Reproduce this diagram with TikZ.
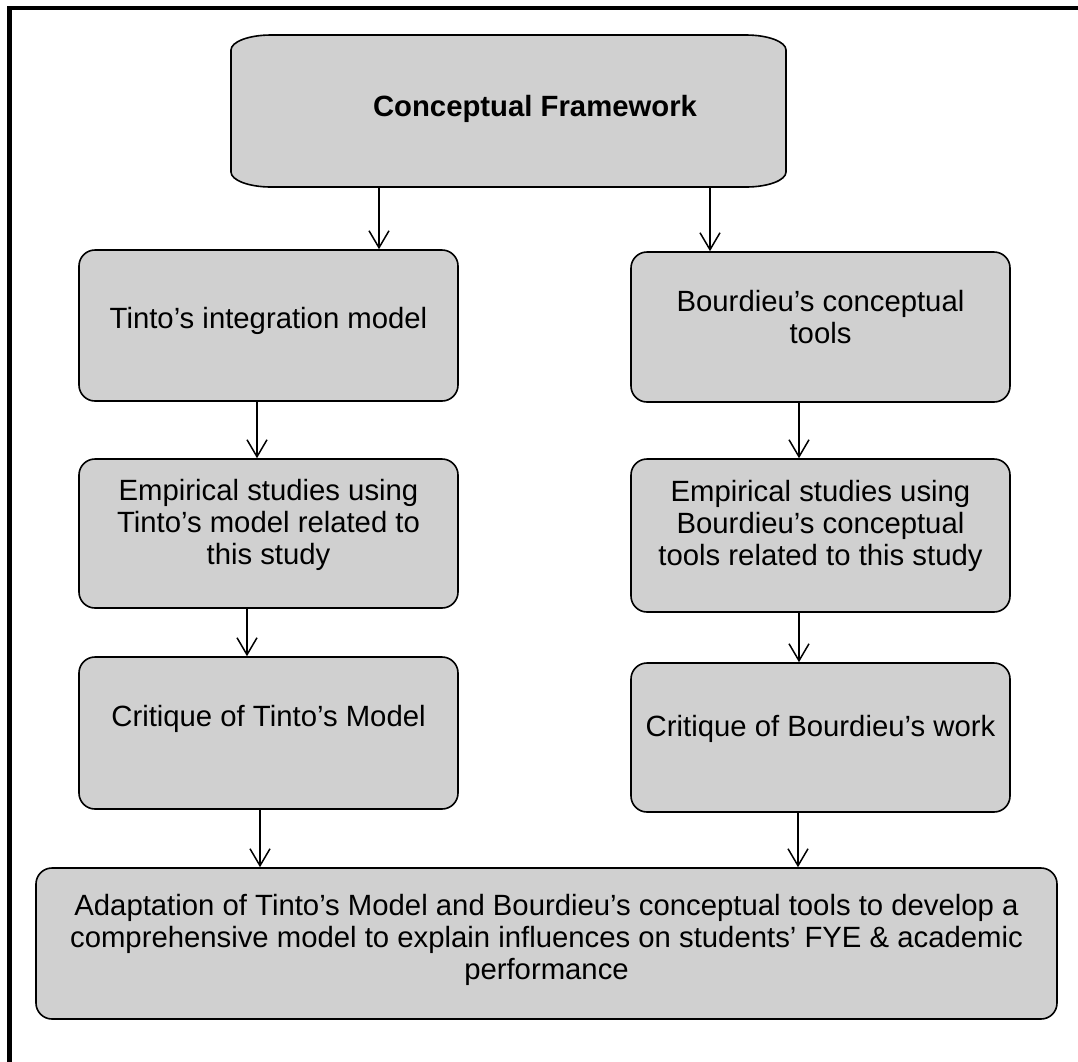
\documentclass[tikz,border=0pt]{standalone}
\usepackage{fontspec}
\setmainfont{Liberation Sans}
\usetikzlibrary{arrows.meta}
\definecolor{boxgray}{RGB}{208,208,208}
\tikzset{
  x=1pt, y=1pt,
  txt/.style={font=\fontsize{29.3}{32}\selectfont, align=center, text=black},
  card/.style={draw=black, line width=1.6pt, fill=boxgray, rounded corners=16pt,
    inner sep=0pt, txt},
  link/.style={draw=black, line width=1.5pt, -{Straight Barb[length=17pt,width=20pt]}},
}
\begin{document}
\begin{tikzpicture}
\useasboundingbox (0,0) rectangle (1078,-1061);
\clip (0,0) rectangle (1078,-1061);

% outer frame (only its top and left sides fall on the page)
\draw[line width=4.6pt] (9.5,-1100) -- (9.5,-8) -- (1100,-8);

% heading box with wide, flattened corners
\node[minimum width=555pt, minimum height=152pt, inner sep=0pt] (cf) at (508.5,-111) {};
\path[draw=black, line width=1.6pt, fill=boxgray]
  (271,-35) -- (746,-35) arc[start angle=90, end angle=0, x radius=40, y radius=15]
  -- (786,-172) arc[start angle=0, end angle=-90, x radius=40, y radius=15]
  -- (271,-187) arc[start angle=-90, end angle=-180, x radius=40, y radius=15]
  -- (231,-50) arc[start angle=180, end angle=90, x radius=40, y radius=15] -- cycle;
\node[txt, font=\fontsize{29.3}{32}\selectfont\bfseries] (cftext) at (535,-109) {Conceptual Framework};

% left column
\node[card, minimum width=379pt, minimum height=151pt, text depth=16pt] (t1) at (268.5,-325.5)
  {Tinto’s integration model};
\node[card, minimum width=379pt, minimum height=149pt, text depth=24pt] (t2) at (268.5,-533.5)
  {Empirical studies using\\Tinto’s model related to\\this study};
\node[card, minimum width=379pt, minimum height=152pt, text depth=34pt] (t3) at (268.5,-733)
  {Critique of Tinto’s Model};

% right column
\node[card, minimum width=379pt, minimum height=150pt, text depth=20pt] (b1) at (820.5,-327)
  {Bourdieu’s conceptual\\tools};
\node[card, minimum width=379pt, minimum height=153pt, text depth=26pt] (b2) at (820.5,-535.5)
  {Empirical studies using\\Bourdieu’s conceptual\\tools related to this study};
\node[card, minimum width=379pt, minimum height=149pt, text depth=24pt] (b3) at (820.5,-737.5)
  {Critique of Bourdieu’s work};

% closing box
\node[card, minimum width=1021pt, minimum height=151pt, text depth=14pt] (fin) at (546.5,-943.5)
  {Adaptation of Tinto’s Model and Bourdieu’s conceptual tools to develop a\\
   comprehensive model to explain influences on students’ FYE \& academic\\
   performance};

% connectors
\draw[link] ([xshift=-129.5pt]cf.south) -- ([xshift=110.5pt]t1.north);
\draw[link] ([xshift=201.5pt]cf.south) -- ([xshift=-110.5pt]b1.north);
\draw[link] ([xshift=-11.5pt]t1.south) -- ([xshift=-11.5pt]t2.north);
\draw[link] ([xshift=-21.5pt]t2.south) -- ([xshift=-21.5pt]t3.north);
\draw[link] ([xshift=-8.5pt]t3.south) -- ([xshift=-286.5pt]fin.north);
\draw[link] ([xshift=-21.5pt]b1.south) -- ([xshift=-21.5pt]b2.north);
\draw[link] ([xshift=-21.5pt]b2.south) -- ([xshift=-21.5pt]b3.north);
\draw[link] ([xshift=-22.5pt]b3.south) -- ([xshift=251.5pt]fin.north);
\end{tikzpicture}
\end{document}
